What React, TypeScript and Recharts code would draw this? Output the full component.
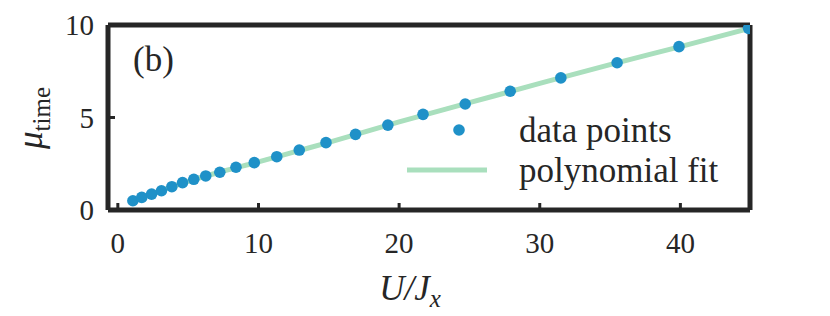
import React from "react";
import { ComposedChart, Line, XAxis, YAxis } from "recharts";

const dataX = [1.07, 1.7, 2.4, 3.1, 3.84, 4.6, 5.4, 6.25, 7.25, 8.4, 9.7, 11.3, 12.9, 14.8, 16.9, 19.2, 21.7, 24.7, 27.9, 31.5, 35.5, 39.9, 44.85];
const dataY = [0.5, 0.68, 0.86, 1.04, 1.26, 1.48, 1.66, 1.84, 2.04, 2.31, 2.56, 2.88, 3.24, 3.64, 4.09, 4.59, 5.17, 5.73, 6.42, 7.14, 7.96, 8.83, 9.82];
const fitX = [1.07, 3, 5, 7.5, 10, 12.5, 15, 20, 25, 30, 35, 40, 44.85];
const fitY = [0.5, 1.02, 1.55, 2.1, 2.6, 3.13, 3.66, 4.76, 5.8, 6.84, 7.86, 8.83, 9.8];
const xTicks = [0, 10, 20, 30, 40];
const yTicks = [0, 5, 10];

const points = dataX.map((x, i) => ({ x, y: dataY[i] }));
const fit = fitX.map((x, i) => ({ x, y: fitY[i] }));

const FONT = "Liberation Serif";
const INK = "#262626";
const BLUE = "#1f91c8";
const GREEN = "#a9dfbd";

export default function App() {
  const tickStyle = { fontSize: 29, fill: INK, fontFamily: FONT };
  return (
    <div style={{ position: "relative", width: 822, height: 308 }}>
      <ComposedChart width={822} height={300} margin={{ top: 16, right: 79, bottom: 38, left: 40 }}>
        <XAxis
          xAxisId="b"
          dataKey="x"
          type="number"
          domain={[-0.7, 44.95]}
          ticks={xTicks}
          allowDataOverflow
          height={60}
          tickSize={-7}
          tickMargin={29}
          axisLine={{ stroke: INK, strokeWidth: 5 }}
          tickLine={{ stroke: INK, strokeWidth: 3 }}
          tick={tickStyle}
        />
        <XAxis
          xAxisId="t"
          dataKey="x"
          type="number"
          orientation="top"
          domain={[-0.7, 44.95]}
          ticks={xTicks}
          allowDataOverflow
          height={1}
          tickSize={-7}
          axisLine={{ stroke: INK, strokeWidth: 5 }}
          tickLine={{ stroke: INK, strokeWidth: 3 }}
          tick={false}
        />
        <YAxis
          yAxisId="l"
          dataKey="y"
          type="number"
          domain={[0, 10]}
          ticks={yTicks}
          allowDataOverflow
          width={60}
          tickSize={-7}
          tickMargin={21}
          axisLine={{ stroke: INK, strokeWidth: 5 }}
          tickLine={{ stroke: INK, strokeWidth: 3 }}
          tick={tickStyle}
        />
        <YAxis
          yAxisId="r"
          dataKey="y"
          type="number"
          orientation="right"
          domain={[0, 10]}
          ticks={yTicks}
          allowDataOverflow
          width={1}
          tickSize={-7}
          axisLine={{ stroke: INK, strokeWidth: 5 }}
          tickLine={{ stroke: INK, strokeWidth: 3 }}
          tick={false}
        />
        <Line
          xAxisId="b"
          yAxisId="l"
          data={points}
          dataKey="y"
          stroke="none"
          strokeWidth={0}
          dot={{ r: 5.8, fill: BLUE, stroke: "none" }}
          activeDot={false}
          isAnimationActive={false}
        />
        <Line
          xAxisId="b"
          yAxisId="l"
          data={fit}
          dataKey="y"
          type="monotone"
          stroke={GREEN}
          strokeWidth={5}
          dot={false}
          activeDot={false}
          isAnimationActive={false}
        />
      </ComposedChart>
      <svg width={822} height={308} style={{ position: "absolute", left: 0, top: 0, pointerEvents: "none" }}>
        <text x={125} y={63} fontFamily={FONT} fontSize={35} fill={INK}>(b)</text>
        <circle cx={451} cy={122} r={5.8} fill={BLUE} />
        <line x1={399} y1={162} x2={479} y2={162} stroke={GREEN} strokeWidth={5} />
        <text x={511} y={134} fontFamily={FONT} fontSize={35} fill={INK}>data points</text>
        <text x={511} y={174} fontFamily={FONT} fontSize={35} fill={INK}>polynomial fit</text>
        <text x={402} y={292} fontFamily={FONT} fontSize={35} fill={INK} textAnchor="middle" fontStyle="italic">
          U/J<tspan fontSize={25} dy={7}>x</tspan>
        </text>
        <text transform="translate(34,110) rotate(-90)" fontFamily={FONT} fontSize={35} fill={INK} textAnchor="middle">
          <tspan fontStyle="italic">μ</tspan>
          <tspan fontSize={25} dy={8}>time</tspan>
        </text>
      </svg>
    </div>
  );
}
